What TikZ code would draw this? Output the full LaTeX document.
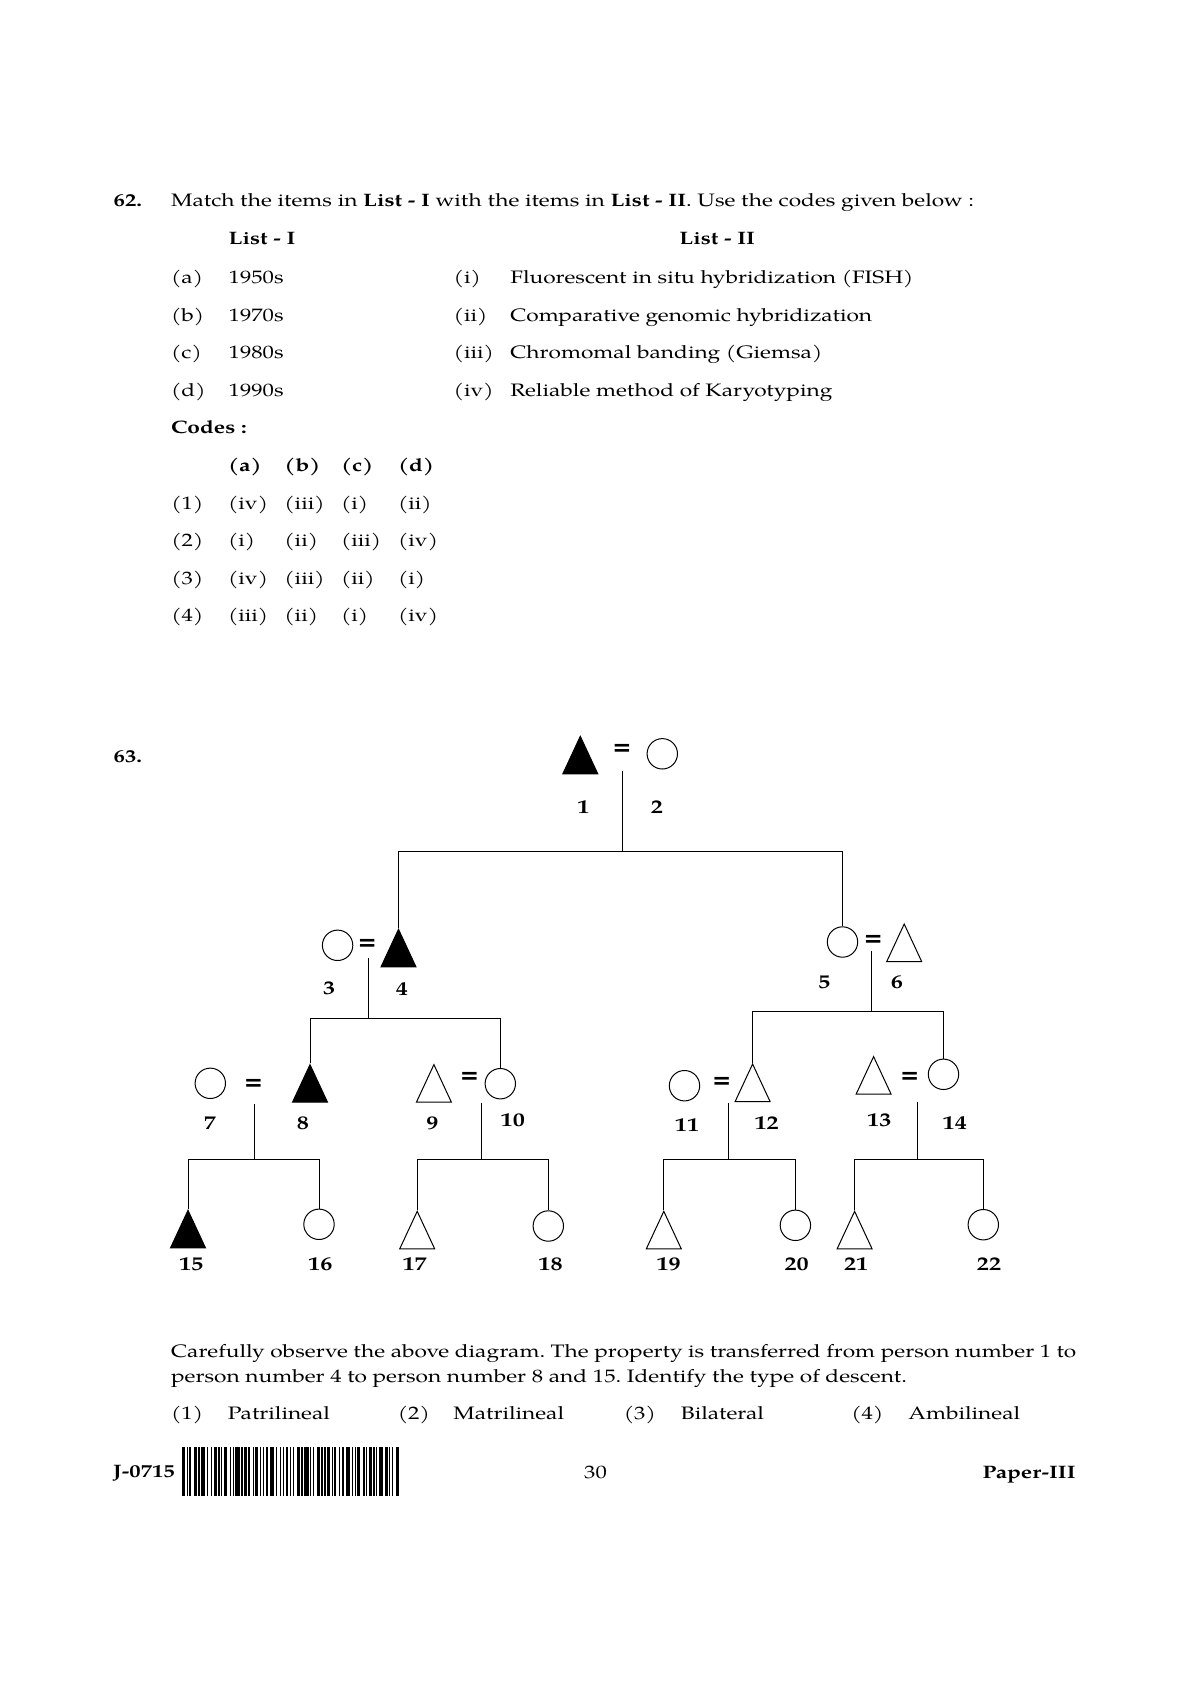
\documentclass[tikz,border=0pt]{standalone}
\usepackage{fontspec}
\setmainfont{TeX Gyre Pagella}[FakeStretch=1.26]
\newfontfamily\eqfont{DejaVu Sans}
\frenchspacing
\usepackage{tikz}
\usetikzlibrary{calc}
\usetikzlibrary{shapes.geometric}
\tikzstyle{malenode} = [isosceles triangle, 
isosceles triangle stretches, 
shape border rotate=90, 
minimum width=17.5pt, 
minimum height=18.8pt, 
inner sep=0pt, 
anchor=apex, 
draw=black, 
line width=0.5pt]
\tikzstyle{femalenode} = [circle, 
minimum size=15.2pt, 
inner sep=0pt, 
draw=black, 
line width=0.5pt]
\tikzstyle{affected} = [fill=black]
\tikzstyle{pnum} = [inner sep=0pt, font=\fontsize{9.6}{11}\selectfont\bfseries]
\tikzstyle{eqsign} = [inner sep=0pt, font=\eqfont\fontsize{11.5}{12}\selectfont\bfseries]
\tikzstyle{txt} = [inner sep=0pt, anchor=base west, font=\fontsize{9}{12}\selectfont]
\tikzstyle{btxt} = [txt, font=\fontsize{9}{12}\selectfont\bfseries]
\tikzstyle{kinline} = [line width=0.5pt]

\begin{document}
\begin{tikzpicture}[x=0.5pt, y=-0.5pt]
    \fill [white] (0,0) rectangle (1190,1683);

    % Question 62
    \node (q62) [btxt] at (113.3,206.7) {62.};
    \node (q62txt) [txt] at (170.7,206.7) {Match the items in \textbf{List - I} with the items in \textbf{List - II}. Use the codes given below :};
    \node (lone) [btxt] at (228.3,244.3) {List - I};
    \node (ltwo) [btxt] at (679,244.3) {List - II};

    \node (la) [txt] at (170.7,283.3) {(a)};
    \node (lb) [txt] at (170.7,321) {(b)};
    \node (lc) [txt] at (170.7,358.5) {(c)};
    \node (ld) [txt] at (170.7,396) {(d)};
    \node (ya) [txt] at (228.3,283.3) {1950s};
    \node (yb) [txt] at (228.3,321) {1970s};
    \node (yc) [txt] at (228.3,358.5) {1980s};
    \node (yd) [txt] at (228.3,396) {1990s};
    \node (ri) [txt] at (453.3,283.3) {(i)};
    \node (rii) [txt] at (453.3,321) {(ii)};
    \node (riii) [txt] at (453.3,358.5) {(iii)};
    \node (riv) [txt] at (453.3,396) {(iv)};
    \node (mi) [txt] at (510,283.3) {Fluorescent in situ hybridization (FISH)};
    \node (mii) [txt] at (510,321) {Comparative genomic hybridization};
    \node (miii) [txt] at (510,358.5) {Chromomal banding (Giemsa)};
    \node (miv) [txt] at (510,396) {Reliable method of Karyotyping};

    % Codes
    \node (codes) [btxt] at (170.7,433.5) {Codes :};
    \node (ha) [btxt] at (227.7,471.5) {(a)};
    \node (hb) [btxt] at (284,471.5) {(b)};
    \node (hc) [btxt] at (340.7,471.5) {(c)};
    \node (hd) [btxt] at (397.7,471.5) {(d)};
    \foreach \r/\yy/\ca/\cb/\cc/\cd in {1/509/(iv)/(iii)/(i)/(ii), 2/546.5/(i)/(ii)/(iii)/(iv), 3/584/(iv)/(iii)/(ii)/(i), 4/621.5/(iii)/(ii)/(i)/(iv)} {
        \node (row\r) [txt] at (171,\yy) {(\r)};
        \node (ca\r) [txt] at (227.7,\yy) {\ca};
        \node (cb\r) [txt] at (284,\yy) {\cb};
        \node (cc\r) [txt] at (340.7,\yy) {\cc};
        \node (cd\r) [txt] at (397.7,\yy) {\cd};
    }

    % Question 63
    \node (q63) [btxt] at (113.3,762) {63.};

    % Generation 1
    \node (p1) [malenode, affected] at (580.3,735) {};
    \node (e12) [eqsign] at (622,750.3) {=};
    \node (p2) [femalenode] at (662.3,753.8) {};
    \node (n1) [pnum] at (583.5,806.7) {1};
    \node (n2) [pnum] at (657,806.7) {2};
    \coordinate (c12) at (622,771);
    \coordinate (b12) at (622,851.7);

    % Generation 2
    \node (p3) [femalenode] at (337.6,945.3) {};
    \node (e34) [eqsign] at (367.3,945) {=};
    \node (p4) [malenode, affected] at (398.5,928) {};
    \node (n3) [pnum] at (329.2,988.8) {3};
    \node (n4) [pnum] at (402,988.8) {4};
    \coordinate (c34) at (368.5,958);
    \coordinate (b34) at (368.5,1018.3);

    \node (p5) [femalenode] at (842.5,942) {};
    \node (e56) [eqsign] at (873.3,940.7) {=};
    \node (p6) [malenode] at (904.2,922.7) {};
    \node (n5) [pnum] at (824.2,982.3) {5};
    \node (n6) [pnum] at (897,982.3) {6};
    \coordinate (c56) at (871,950.7);
    \coordinate (b56) at (871,1011);

    % Generation 3
    \node (p7) [femalenode] at (210.3,1083.3) {};
    \node (e78) [eqsign] at (253.4,1085) {=};
    \node (p8) [malenode, affected] at (310,1063.3) {};
    \node (n7) [pnum] at (210,1123) {7};
    \node (n8) [pnum] at (302.8,1123) {8};
    \coordinate (c78) at (254.6,1104);
    \coordinate (b78) at (254.6,1159.3);

    \node (p9) [malenode] at (433.9,1063.3) {};
    \node (e910) [eqsign] at (469.5,1077.7) {=};
    \node (p10) [femalenode] at (500.3,1083.7) {};
    \node (n9) [pnum] at (432.3,1123) {9};
    \node (n10) [pnum] at (512.8,1120.5) {10};
    \coordinate (c910) at (481,1102.7);
    \coordinate (b910) at (481,1159.3);

    \node (p11) [femalenode] at (684.5,1085.7) {};
    \node (e1112) [eqsign] at (721.8,1083.3) {=};
    \node (p12) [malenode] at (752.6,1062.7) {};
    \node (n11) [pnum] at (687,1125) {11};
    \node (n12) [pnum] at (766.6,1123.2) {12};
    \coordinate (c1112) at (728.7,1103.3);
    \coordinate (b1112) at (728.7,1159.3);

    \node (p13) [malenode] at (873.6,1055.3) {};
    \node (e1314) [eqsign] at (909.8,1077.7) {=};
    \node (p14) [femalenode] at (943.5,1074.3) {};
    \node (n13) [pnum] at (879.3,1120.6) {13};
    \node (n14) [pnum] at (954.8,1123.2) {14};
    \coordinate (c1314) at (917.8,1101.7);
    \coordinate (b1314) at (917.8,1159.3);

    % Generation 4
    \node (p15) [malenode, affected] at (188,1209) {};
    \node (p16) [femalenode] at (319,1224.3) {};
    \node (p17) [malenode] at (417.2,1210) {};
    \node (p18) [femalenode] at (548.3,1226) {};
    \node (p19) [malenode] at (663.8,1210) {};
    \node (p20) [femalenode] at (795.4,1225.3) {};
    \node (p21) [malenode] at (854.6,1210) {};
    \node (p22) [femalenode] at (983.3,1224.7) {};
    \node (n15) [pnum] at (191.2,1264.5) {15};
    \node (n16) [pnum] at (320.3,1264.5) {16};
    \node (n17) [pnum] at (414.6,1264.5) {17};
    \node (n18) [pnum] at (550.5,1264.5) {18};
    \node (n19) [pnum] at (668.7,1264.5) {19};
    \node (n20) [pnum] at (796.6,1264.5) {20};
    \node (n21) [pnum] at (856.1,1264.5) {21};
    \node (n22) [pnum] at (989,1264.5) {22};

    % Descent lines
    \draw [kinline] (c12) -- (b12);
    \draw [kinline] (p4.apex) -- (p4.apex |- b12) -- (p5.north |- b12) -- (p5.north);
    \draw [kinline] (c34) -- (b34);
    \draw [kinline] (p8.apex) -- (p8.apex |- b34) -- (p10.north |- b34) -- (p10.north);
    \draw [kinline] (c56) -- (b56);
    \draw [kinline] (p12.apex) -- (p12.apex |- b56) -- (p14.north |- b56) -- (p14.north);
    \draw [kinline] (c78) -- (b78);
    \draw [kinline] (p15.apex) -- (p15.apex |- b78) -- (p16.north |- b78) -- (p16.north);
    \draw [kinline] (c910) -- (b910);
    \draw [kinline] (p17.apex) -- (p17.apex |- b910) -- (p18.north |- b910) -- (p18.north);
    \draw [kinline] (c1112) -- (b1112);
    \draw [kinline] (p19.apex) -- (p19.apex |- b1112) -- (p20.north |- b1112) -- (p20.north);
    \draw [kinline] (c1314) -- (b1314);
    \draw [kinline] (p21.apex) -- (p21.apex |- b1314) -- (p22.north |- b1314) -- (p22.north);

    % Question text and options
    \node (qline1) [txt] at (170.7,1357) {\makebox[452.6pt][s]{Carefully observe the above diagram. The property is transferred from person number 1 to}};
    \node (qline2) [txt] at (170.7,1382) {person number 4 to person number 8 and 15. Identify the type of descent.};
    \node (o1) [txt] at (170.7,1419) {(1)};
    \node (o1t) [txt] at (227.5,1419) {Patrilineal};
    \node (o2) [txt] at (397.5,1419) {(2)};
    \node (o2t) [txt] at (453,1419) {Matrilineal};
    \node (o3) [txt] at (623.5,1419) {(3)};
    \node (o3t) [txt] at (680.5,1419) {Bilateral};
    \node (o4) [txt] at (851,1419) {(4)};
    \node (o4t) [txt] at (908,1419) {Ambilineal};

    % Footer
    \node (code) [btxt] at (112.7,1477) {J-0715};
    \foreach \w/\g [remember=\xn as \xo (initially 182.3), evaluate=\w as \xn using \xo+(\w+\g)*1.435] in {2/1,1/1,1/2,2/1,1/1,3/1,1/2,1/1,2/1,1/1,1/1,2/2,1/1,1/1,3/1,1/1,2/1,1/2,1/1,2/1,1/1,1/1,2/1,3/1,1/2,1/1,1/1,2/1,1/1,1/2,2/1,1/1,3/1,1/1,1/2,2/1,1/1,1/1,2/1,1/1,1/2,1/1,2/1,3/1,1/1,1/1,2/2,1/1,1/1,2/1,1/1,1/1,3/1,2/1,1/1,1/2,2/1}
        \fill [black] (\xo,1447) rectangle ++(\w*1.435,48.5);
    \node (pageno) [txt, anchor=base] at (595.5,1478) {30};
    \node (paper) [btxt, anchor=base east] at (1076,1478) {Paper-III};
\end{tikzpicture}
\end{document}
